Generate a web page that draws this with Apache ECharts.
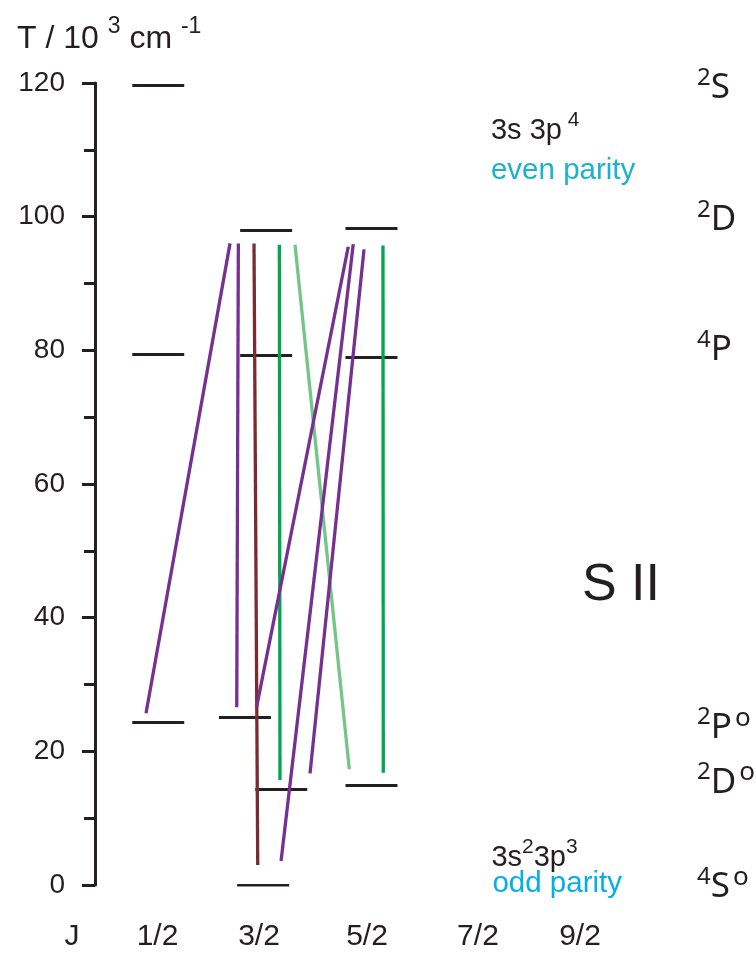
<!DOCTYPE html>
<html><head><meta charset="utf-8">
<script src="https://cdn.jsdelivr.net/npm/echarts@6/dist/echarts.min.js"></script>
<style>html,body{margin:0;padding:0;background:#fff}#c{width:756px;height:954px}</style>
</head><body><div id="c"></div>
<script>
// ---- data (energies in 10^3 cm^-1, horizontal positions in J units) ----
const xLabelText = ['J', '1/2', '3/2', '5/2', '7/2', '9/2'];
const xLabelPos  = [-0.316, 0.487, 1.44, 2.454, 3.496, 4.454];
const yMin = 0, yMax = 120, yStep = 20;

// energy levels
const levelCenter = [0.494, 0.494, 0.494, 1.507, 1.507, 1.308, 1.649, 1.479, 2.496, 2.496, 2.496];
const levelE      = [119.6, 79.4, 24.35, 98.0, 79.3, 25.1, 14.4, 0.0, 98.3, 79.0, 14.95];
const levelHalfWidth = 0.244;

// transitions
const transLowJ = [0.379, 1.231, 1.428, 1.637, 2.288, 1.418, 1.647, 1.919, 2.607];
const transLowE = [25.7, 26.6, 3.0, 15.7, 17.3, 26.7, 3.6, 16.7, 16.8];
const transUpJ  = [1.168, 1.246, 1.393, 1.631, 1.778, 2.278, 2.325, 2.426, 2.604];
const transUpE  = [96.0, 96.0, 96.0, 95.8, 95.8, 95.5, 95.9, 95.1, 95.7];
const transKind = ['purple', 'purple', 'brown', 'green', 'lightgreen', 'purple', 'purple', 'purple', 'green'];

// term labels
const termMult = ['2', '2', '4', '2', '2', '4'];
const termL    = ['S', 'D', 'P', 'P', 'D', 'S'];
const termOdd  = [false, false, false, true, true, true];
const termE    = [119.6, 99.8, 80.35, 23.9, 15.7, 0.0];
const termJ    = 5.553;

const kindColor = {purple: '#76308f', brown: '#7a2a30', green: '#00a651', lightgreen: '#74c688'};
const black = '#231f20';

// ---- build ----
const levelData = levelCenter.map((c, i) => ({coords: [[c - levelHalfWidth, levelE[i]], [c + levelHalfWidth, levelE[i]]]}));
const transData = transLowJ.map((j, i) => ({
  coords: [[j, transLowE[i]], [transUpJ[i], transUpE[i]]],
  lineStyle: {color: kindColor[transKind[i]]}
}));
const termData = termMult.map((m, i) => ({
  value: [termJ, termE[i]],
  label: {formatter: '{s|' + m + '}{m|' + termL[i] + '}' + (termOdd[i] ? '{o|o}' : '')}
}));

const annData = [
  {value: [3.618, 113.3], label: {formatter: '{a|3s 3p}{s| 4}'}},
  {value: [3.618, 106.8], label: {formatter: '{c|even parity}'}},
  {value: [3.622, 4.5], label: {formatter: '{a|3s}{s|2}{a|3p}{s|3}'}},
  {value: [3.632, 0.15], label: {formatter: '{d|odd parity}'}},
];
const sIIData = [{value: [4.839, 44.74], label: {formatter: 'S II'}}];

const helv = 'Liberation Sans, Arial, sans-serif';
const myriad = 'Noto Sans, Open Sans, sans-serif';

const gridLeft = 52.4;   // x = -0.5 J
const axisX = 95;        // where the energy axis is drawn

const chart = echarts.init(document.getElementById('c'), null, {renderer: 'canvas'});
chart.setOption({
  animation: false,
  backgroundColor: '#fff',
  title: {
    text: '{a|T / 10 }{s|3}{a| cm }{s|-1}',
    left: 12, top: 10,
    textStyle: {
      fontWeight: 'normal',
      rich: {
        a: {fontFamily: helv, fontSize: 32, fontWeight: 'normal', color: black, lineHeight: 40, verticalAlign: 'bottom'},
        s: {fontFamily: helv, fontSize: 23, fontWeight: 'normal', color: black, lineHeight: 23, verticalAlign: 'top'}
      }
    }
  },
  grid: {left: gridLeft, right: 11.35, top: 83, bottom: 69, containLabel: false},
  xAxis: {
    type: 'value', min: -0.5, max: 6,
    axisLine: {show: false}, axisTick: {show: false}, splitLine: {show: false},
    axisLabel: {
      customValues: xLabelPos,
      margin: 37,
      fontFamily: helv, fontSize: 30, color: black,
      formatter: function (v) {
        for (let i = 0; i < xLabelPos.length; i++) if (Math.abs(xLabelPos[i] - v) < 1e-6) return xLabelText[i];
        return '';
      }
    }
  },
  yAxis: {
    type: 'value', min: yMin, max: yMax, interval: yStep,
    offset: -(axisX - gridLeft),
    axisLine: {show: true, onZero: false, lineStyle: {color: black, width: 3}},
    axisTick: {show: true, length: 13, lineStyle: {color: black, width: 3}},
    minorTick: {show: true, splitNumber: 2, length: 11, lineStyle: {color: black, width: 3}},
    splitLine: {show: false},
    minorSplitLine: {show: false},
    axisLabel: {margin: 30, fontFamily: helv, fontSize: 28, color: black}
  },
  series: [
    {
      type: 'lines', coordinateSystem: 'cartesian2d', z: 2, silent: true,
      lineStyle: {color: black, width: 3, opacity: 1},
      data: levelData
    },
    {
      type: 'lines', coordinateSystem: 'cartesian2d', z: 3, silent: true,
      lineStyle: {width: 3.3, opacity: 1},
      data: transData
    },
    {
      type: 'scatter', symbolSize: 0, clip: false, silent: true, z: 4,
      itemStyle: {color: 'rgba(0,0,0,0)', opacity: 1},
      label: {
        show: true, position: 'right', distance: 0, color: black, textBorderWidth: 0,
        rich: {
          s: {fontFamily: myriad, fontSize: 24, lineHeight: 24, verticalAlign: 'top', color: black},
          m: {fontFamily: myriad, fontSize: 35, lineHeight: 40, verticalAlign: 'bottom', color: black},
          o: {fontFamily: myriad, fontSize: 26, lineHeight: 16, verticalAlign: 'top', color: black, padding: [0, 0, 0, 3]}
        }
      },
      data: termData
    },
    {
      type: 'scatter', symbolSize: 0, clip: false, silent: true, z: 4,
      itemStyle: {color: 'rgba(0,0,0,0)', opacity: 1},
      label: {
        show: true, position: 'right', distance: 0, color: black, textBorderWidth: 0,
        rich: {
          a: {fontFamily: helv, fontSize: 29, lineHeight: 36, verticalAlign: 'bottom', color: black},
          s: {fontFamily: helv, fontSize: 21, lineHeight: 20, verticalAlign: 'top', color: black},
          c: {fontFamily: helv, fontSize: 29.5, color: '#1ab3cb'},
          d: {fontFamily: helv, fontSize: 29.5, color: '#03aeea'}
        }
      },
      data: annData
    },
    {
      type: 'scatter', symbolSize: 0, clip: false, silent: true, z: 4,
      itemStyle: {color: 'rgba(0,0,0,0)', opacity: 1},
      label: {show: true, position: 'inside', fontFamily: helv, fontSize: 52, color: black, textBorderWidth: 0},
      data: sIIData
    }
  ]
});
</script></body></html>
